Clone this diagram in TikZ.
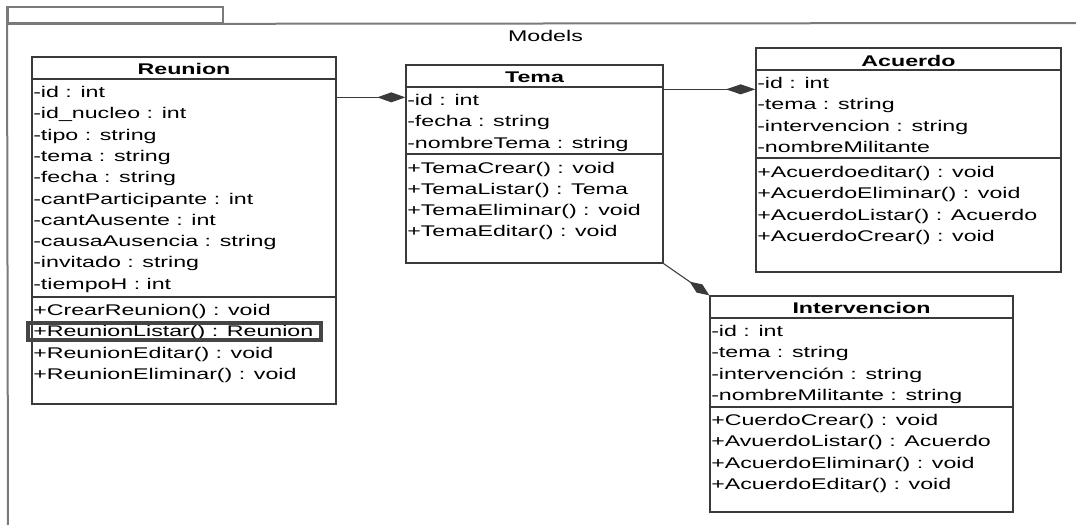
\documentclass[tikz,border=0pt]{standalone}
\usepackage{fontspec}
\setmainfont{Liberation Sans}[FakeStretch=1.5]
\usetikzlibrary{arrows.meta,fit,calc}
\definecolor{boxline}{HTML}{3A3A3A}
\definecolor{frameline}{HTML}{7A7A7A}
\definecolor{hiline}{HTML}{454545}
% vertical distance between two member rows (px)
\newcommand\rowsep{21.3}
% one node per member row: prefix, left x, first baseline y, rows
\newcommand\memberrows[4]{%
  \foreach \mtext [count=\i from 0] in {#4} {%
    \node[member] (#1\i) at ({#2},{#3+\i*\rowsep}) {\mtext};}}
\begin{document}
\begin{tikzpicture}[x=0.75pt,y=-0.75pt,
  member/.style={anchor=base west,inner sep=0pt,text=black,
    font=\fontsize{11.6pt}{14pt}\selectfont},
  classtitle/.style={anchor=base,inner sep=0pt,text=black,
    font=\fontsize{11.6pt}{14pt}\selectfont\bfseries},
  classbox/.style={draw=boxline,line width=1pt,inner sep=0pt},
  divider/.style={draw=boxline,line width=0.9pt},
  frame/.style={draw=frameline,line width=1.5pt},
  compose/.style={draw=boxline,line width=0.8pt},
  hilite/.style={draw=hiline,line width=3pt,inner sep=0pt}]
\useasboundingbox (0,0) rectangle (1076,525);

% package frame with its tab
\node[frame,inner sep=0pt,fit={(8,7) (223,23)}] (tab) {};
\draw[frame] (tab.south west) -- (1076,23);
\draw[frame] (tab.north west) -- (8,525);
\node[member,anchor=base] (pkgname) at (545.5,41) {Models};

% ---- Reunion
\node[classbox,fit={(32,57) (336,404)}] (reunion) {};
\draw[divider] (reunion.west |- 0,79) -- (reunion.east |- 0,79);
\draw[divider] (reunion.west |- 0,297) -- (reunion.east |- 0,297);
\node[classtitle] (reunion-t) at (184,74.5) {Reunion};
\memberrows{reunion-a}{33}{97.5}{-id : int,-id\_nucleo : int,-tipo : string,
  -tema : string,-fecha : string,-cantParticipante : int,-cantAusente : int,
  -causaAusencia : string,-invitado : string,-tiempoH : int}
\memberrows{reunion-m}{33}{315.5}{+CrearReunion() : void,+ReunionListar() : Reunion,
  +ReunionEditar() : void,+ReunionEliminar() : void}
\node[hilite,fit={(28,323) (320.5,339.5)}] (listar-mark) {};

% ---- Tema
\node[classbox,fit={(406,65) (663,263)}] (tema) {};
\draw[divider] (tema.west |- 0,87) -- (tema.east |- 0,87);
\draw[divider] (tema.west |- 0,154) -- (tema.east |- 0,154);
\node[classtitle] (tema-t) at (534.5,82.5) {Tema};
\memberrows{tema-a}{407}{105.5}{-id : int,-fecha : string,-nombreTema : string}
\memberrows{tema-m}{407}{173}{+TemaCrear() : void,+TemaListar() : Tema,
  +TemaEliminar() : void,+TemaEditar() : void}

% ---- Acuerdo
\node[classbox,fit={(756,48) (1061,272)}] (acuerdo) {};
\draw[divider] (acuerdo.west |- 0,70) -- (acuerdo.east |- 0,70);
\draw[divider] (acuerdo.west |- 0,158) -- (acuerdo.east |- 0,158);
\node[classtitle] (acuerdo-t) at (908.5,66) {Acuerdo};
\memberrows{acuerdo-a}{757}{88.5}{-id : int,-tema : string,-intervencion : string,
  -nombreMilitante}
\memberrows{acuerdo-m}{757}{177.5}{+Acuerdoeditar() : void,+AcuerdoEliminar() : void,
  +AcuerdoListar() : Acuerdo,+AcuerdoCrear() : void}

% ---- Intervencion
\node[classbox,fit={(710,296) (1013,512)}] (interv) {};
\draw[divider] (interv.west |- 0,318) -- (interv.east |- 0,318);
\draw[divider] (interv.west |- 0,407) -- (interv.east |- 0,407);
\node[classtitle] (interv-t) at (861.5,313.5) {Intervencion};
\memberrows{interv-a}{711}{336.5}{-id : int,-tema : string,-intervención : string,
  -nombreMilitante : string}
\memberrows{interv-m}{711}{425.5}{+CuerdoCrear() : void,+AvuerdoListar() : Acuerdo,
  +AcuerdoEliminar() : void,+AcuerdoEditar() : void}

% ---- composition links (filled diamond at the whole)
\coordinate (tema-in) at ($(tema.north west)+(0,33)$);
\coordinate (acuerdo-in) at ($(acuerdo.north west)+(0,42)$);
\draw[compose,-{Diamond[length=21pt,width=7.5pt]}]
  (reunion.east |- tema-in) -- (tema-in);
\draw[compose,-{Diamond[length=22pt,width=7.5pt]}]
  (tema.east |- acuerdo-in) -- (acuerdo-in);
\draw[compose,-{Diamond[length=18pt,width=7.5pt]}]
  (tema.south east) -- (interv.north west);
\end{tikzpicture}
\end{document}
